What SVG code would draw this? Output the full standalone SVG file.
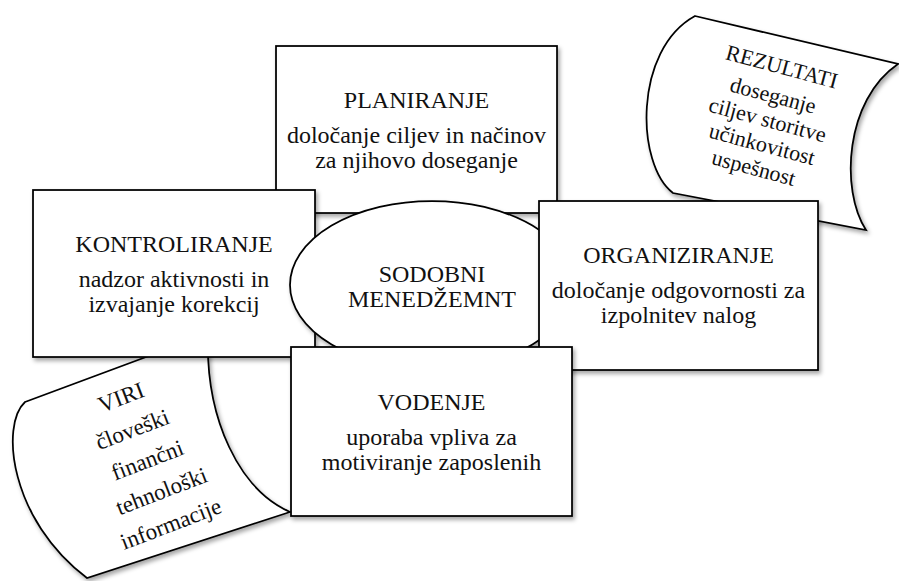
<svg xmlns="http://www.w3.org/2000/svg" width="899" height="581" viewBox="0 0 899 581">
<defs>
<filter id="sh" x="-10%" y="-10%" width="130%" height="130%">
<feDropShadow dx="2" dy="3" stdDeviation="2" flood-color="#000" flood-opacity="0.35"/>
</filter>
<style>
.s{fill:#fff;stroke:#000;stroke-width:1.75;filter:url(#sh)}
.l{fill:none;stroke:#000;stroke-width:1.5}
text{font-family:"Liberation Serif","Times New Roman",serif;fill:#111;text-anchor:middle}
.t{font-size:24px}
.r{font-size:22px}
.v{font-size:23px}
</style>
</defs>
<rect width="899" height="581" fill="#fff"/>
<g id="rezultati">
<path class="s" d="M695,16 L898,64 C845,100 840,190 866,230 L673,193 C636,165 633,50 695,16 Z"/>
<g transform="translate(782,66) rotate(15)">
<text class="r" x="0" y="8">REZULTATI</text>
<text class="r" x="-1" y="38">doseganje</text>
<text class="r" x="0" y="63">ciljev  storitve</text>
<text class="r" x="1" y="88">učinkovitost</text>
<text class="r" x="-1" y="113">uspešnost</text>
</g>
</g>
<g id="viri">
<path class="s" d="M25,402 L208,334 C205,420 240,490 290,512 L87,578 C10,520 0,425 25,402 Z"/>
<g transform="translate(121,397) rotate(-21)">
<text class="v" x="0" y="8">VIRI</text>
<text class="v" x="-1" y="42">človeški</text>
<text class="v" x="2" y="76">finančni</text>
<text class="v" x="4" y="110">tehnološki</text>
<text class="v" x="1" y="144">informacije</text>
</g>
</g>
<g id="planiranje">
<rect class="s" x="276" y="46" width="281" height="167"/>
<text class="t" x="416.5" y="108">PLANIRANJE</text>
<text class="t" x="416.5" y="143">določanje ciljev in načinov</text>
<text class="t" x="416.5" y="168">za njihovo doseganje</text>
</g>
<g id="kontroliranje">
<rect class="s" x="33" y="190" width="282" height="167"/>
<text class="t" x="174" y="252">KONTROLIRANJE</text>
<text class="t" x="174" y="287">nadzor aktivnosti in</text>
<text class="t" x="174" y="312">izvajanje korekcij</text>
</g>
<g id="sodobni">
<ellipse class="s" cx="432" cy="285" rx="142" ry="84"/>
<text class="t" x="432" y="282">SODOBNI</text>
<text class="t" x="432" y="307">MENEDŽEMNT</text>
</g>
<g id="organiziranje">
<rect class="s" x="539" y="201" width="279" height="169"/>
<text class="t" x="678.5" y="263">ORGANIZIRANJE</text>
<text class="t" x="678.5" y="298">določanje odgovornosti za</text>
<text class="t" x="678.5" y="323">izpolnitev nalog</text>
</g>
<g id="vodenje">
<rect class="s" x="291" y="347" width="281" height="169"/>
<text class="t" x="431.5" y="410">VODENJE</text>
<text class="t" x="431.5" y="445">uporaba vpliva za</text>
<text class="t" x="431.5" y="470">motiviranje zaposlenih</text>
</g>
<g id="connectors"/>
</svg>
